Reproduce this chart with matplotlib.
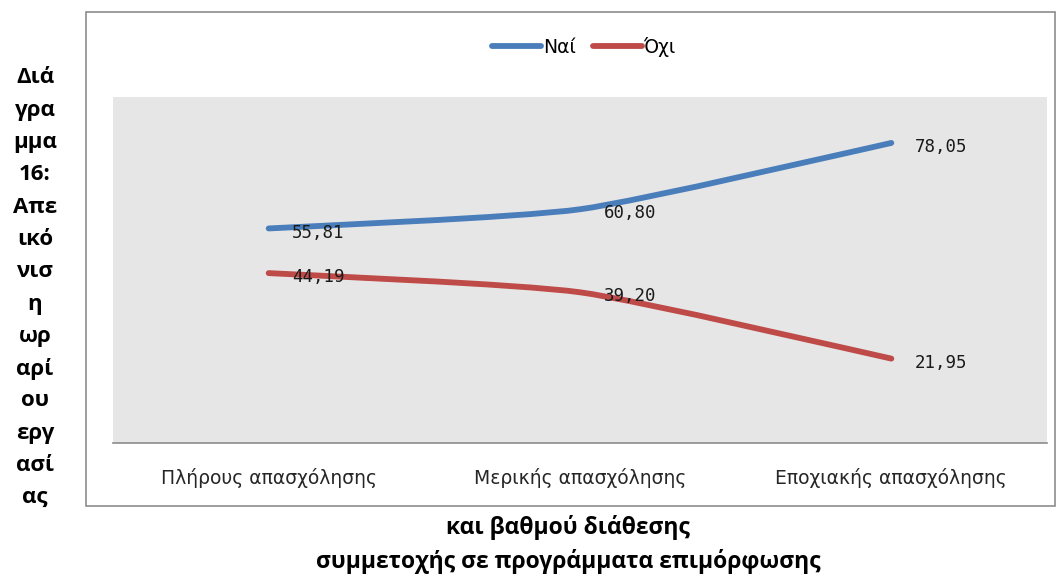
import matplotlib
matplotlib.use("Agg")
import matplotlib.pyplot as plt
from matplotlib.path import Path
from matplotlib.patches import PathPatch, Rectangle
from matplotlib.lines import Line2D
from matplotlib import font_manager as fm
import numpy as np

categories = ["Πλήρους απασχόλησης", "Μερικής απασχόλησης", "Εποχιακής απασχόλησης"]
nai = [55.81, 60.80, 78.05]
oxi = [44.19, 39.20, 21.95]
labels_nai = ["55,81", "60,80", "78,05"]
labels_oxi = ["44,19", "39,20", "21,95"]
series_names = ["Ναί", "Όχι"]
left_title = ["Διά", "γρα", "μμα", "16:", "Απε", "ικό", "νισ", "η", "ωρ", "αρί", "ου", "εργ", "ασί", "ας"]
bottom_title = ["και βαθμού διάθεσης", "συμμετοχής σε προγράμματα επιμόρφωσης"]

# find a normal-width bold sans font
bold_prop = None
for name in ["Open Sans", "Noto Sans", "Lato", "Roboto"]:
    cands = [f for f in fm.fontManager.ttflist
             if f.name == name and f.style == "normal"
             and (f.weight in (700, "bold")) and f.stretch in ("normal", 500)]
    if cands:
        bold_prop = fm.FontProperties(fname=cands[0].fname)
        break
if bold_prop is None:
    bold_prop = fm.FontProperties(family="DejaVu Sans", weight="bold")

W, H = 1062, 580
fig = plt.figure(figsize=(W / 100, H / 100), dpi=100)
fig.patch.set_facecolor("white")

def fx(px):
    return px / W

def fy(py):
    return 1 - py / H

fig.patches.append(Rectangle((fx(86), fy(506)), fx(1055) - fx(86), fy(12) - fy(506),
                             transform=fig.transFigure, fill=False, edgecolor="#8c8c8c",
                             linewidth=1.2, zorder=0))

ax = fig.add_axes([fx(113), fy(443), fx(1047) - fx(113), fy(97) - fy(443)])
ax.set_facecolor("#e6e6e6")
ax.set_xlim(-0.5, 2.5)
ax.set_ylim(0, 90)
for s in ["top", "right", "left"]:
    ax.spines[s].set_visible(False)
ax.spines["bottom"].set_color("#8c8c8c")
ax.spines["bottom"].set_linewidth(1.2)
ax.set_yticks([])
ax.set_xticks(range(len(categories)))
ax.set_xticklabels(categories, fontsize=13.5, color="#262626", family="DejaVu Sans")
ax.tick_params(axis="x", length=0, pad=18)

def smooth_path(xs, ys, t=0.1):
    pts = np.column_stack([xs, ys]).astype(float)
    n = len(pts)
    verts = [pts[0]]
    codes = [Path.MOVETO]
    for i in range(n - 1):
        p0 = pts[i - 1] if i > 0 else pts[i]
        p1 = pts[i]
        p2 = pts[i + 1]
        p3 = pts[i + 2] if i + 2 < n else pts[i + 1]
        c1 = p1 + (p2 - p0) * t
        c2 = p2 - (p3 - p1) * t
        verts += [c1, c2, p2]
        codes += [Path.CURVE4] * 3
    return Path(verts, codes)

colors = ["#4a7ebb", "#be4b48"]
xs = np.arange(len(categories))
for vals, col in zip([nai, oxi], colors):
    patch = PathPatch(smooth_path(xs, vals), facecolor="none", edgecolor=col,
                      linewidth=4.2, capstyle="round", joinstyle="round", zorder=3)
    ax.add_patch(patch)

for vals, labs in zip([nai, oxi], [labels_nai, labels_oxi]):
    for x, v, lab in zip(xs, vals, labs):
        ax.annotate(lab, (x, v), xytext=(17, -3), textcoords="offset points",
                    ha="left", va="center", fontsize=12.5, family="DejaVu Sans Mono",
                    color="#1a1a1a", zorder=4)

handles = [Line2D([0], [0], color=c, linewidth=4.2, solid_capstyle="round") for c in colors]
fig.legend(handles, series_names, loc="center", bbox_to_anchor=(fx(584), fy(47)),
           ncol=2, frameon=False, handlelength=2.6, handletextpad=0.1,
           columnspacing=0.9, prop={"family": "DejaVu Sans", "size": 13.5})

for i, t in enumerate(left_title):
    fig.text(fx(35), fy(78 + i * 32.3), t, ha="center", va="center",
             fontproperties=bold_prop, fontsize=16, color="black")

fig.text(fx(568), fy(527), bottom_title[0], ha="center", va="center",
         fontproperties=bold_prop, fontsize=16.5, color="black")
fig.text(fx(568), fy(561), bottom_title[1], ha="center", va="center",
         fontproperties=bold_prop, fontsize=16.5, color="black")

fig.savefig("out.png", dpi=100, facecolor="white")
